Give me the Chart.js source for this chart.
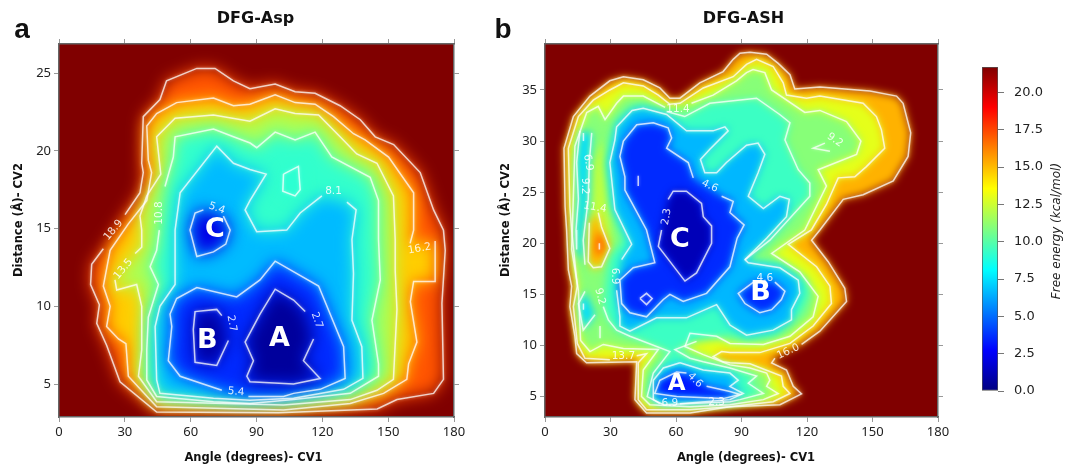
<!DOCTYPE html>
<html lang="en">
<head>
  <meta charset="UTF-8" />
  <title>DFG-Asp / DFG-ASH free energy</title>
  <script src="https://cdn.jsdelivr.net/npm/chart.js"></script>
  <style>
    html, body { margin: 0; background: #fff; }
    canvas { position: absolute; top: 0; }
  </style>
</head>
<body>
  <canvas id="panelA" width="490" height="472" style="left:0"></canvas>
  <canvas id="panelB" width="480" height="472" style="left:490px"></canvas>
  <canvas id="colorBar" width="112" height="472" style="left:960px"></canvas>

  <script>
    const xTicks = [0, 30, 60, 90, 120, 150, 180];
    const yTicksA = [5, 10, 15, 20, 25];
    const yTicksB = [5, 10, 15, 20, 25, 30, 35];
    const barTicks = [0, 2.5, 5, 7.5, 10, 12.5, 15, 17.5, 20];
    const energyMax = 21.7;

    // panel a contours, angle / distance
    const a189x = [30.1,36.9,38.4,37.7,38.4,46,49,62.8,71.1,79.5,87,98.5,107.6,116.7,128.1,137.3,144.1,152.5,164.6,170.7,175.2,176,174.5,175.2,170.7,154,145,100,44.5,27.8,21.7,17.2,18.4,14.4,14.9,20.2];
    const a189y = [15.9,17.3,18.6,19.2,22.2,23.3,24.5,25.3,25.3,24.5,24,24.3,23.8,23.7,22.9,22,20.9,20.4,18.6,16.2,14.9,13.6,10.2,5.3,4.4,4,3.4,3.15,3.2,5.15,7.5,8.9,10.1,11.4,12.7,13.7];
    const a162x = [171.4,171.4,161.6,160.1,163.1,159.3,158.5,147.9,132.7,102.3,44.5,31.6,30.5,27.1,21.7,23.3,20.2,23.3,31.6,40,42.2,40.7,40,44.5,53.6,70.4,79.5,87,98.5,107.6,116.7,125.1,134.2,139.5,150.2,161.6,161.6,160];
    const a162y = [14.2,11.6,11.6,10.3,7.7,6.3,5.3,4.4,3.75,3.33,3.54,5.5,7.6,7.9,8.7,10,11.3,13.6,15.3,16.8,18.6,19.4,21.6,22.4,23.1,23.4,22.9,23,23.6,23.1,23,22.2,21.1,20.7,19.6,17.3,14.9,14.05];
    const a135x = [34.7,37.7,37.7,36.9,40,46.4,44.5,52.9,70.4,87,98.5,107.6,118.3,128.1,135.7,144.9,152.4,153.2,153.2,154,152.4,144.9,132.7,102.3,44.5,36.2,37.7,37.7,35.4,26.3,25.5];
    const a135y = [13.4,13.8,14.9,15.8,17.1,18.5,20.9,22.1,22.3,21.9,22.7,22.4,22.3,20.9,19.8,19.2,17.1,14.3,12.3,9.8,5.3,4.6,4,3.65,3.86,5.5,7.2,10,11.4,11.05,11.7];
    const a108x = [48.3,52.1,52.9,70.4,79.5,87.1,90.1,98.5,107.6,116.7,124.3,141.8,145.6,145.6,146.4,142.6,145.6,145.6,132.7,106.9,87,70.4,44.5,40,40,40.7,45.3,41.5,44.5,45.7];
    const a108y = [17.7,19.6,20.9,21.4,20.9,20.5,20.2,21.2,20.7,21.2,19.6,18.3,16.8,14.3,11.7,9.1,6.3,5.5,4.4,4,3.75,3.86,4.2,5.26,7.2,9.3,11.4,12.55,13.6,14.9];
    const a81x = [131.2,135.4,133.5,134.2,133.5,138,138.5,129.7,106.9,87,70.4,46,44.5,43.8,46,52.9,52.9,55.2,71.9,79.5,87,94.4,87,84.8,90.1,103.8,109.9,119.8];
    const a81y = [16.7,16.2,14.3,12.1,9.1,7.4,5.36,4.66,4.08,3.95,4.08,4.4,5.26,8.7,10,11.4,14.9,17.3,20.3,19.2,18.8,18.5,16.8,16.2,14.8,14.9,16,17.1];
    const a81ix = [102.3,109.1,109.9,107.6,102,102.3];
    const a81iy = [18.5,19,17.5,17.1,17.4,18.5];
    const a54x = [86.3,102.3,106.9,119,130.4,129.7,118.3,98.5,91.6,81,62.8,53.6,50.6,51.4,49.8,55.2,74.2];
    const a54y = [4.2,4.2,4.4,4.66,5.36,7.4,11.3,12.9,11.7,10.6,11.2,10.5,9.5,8.7,6.5,5.5,4.6];
    const a54cx = [74.9,78,76,70.4,62.8,59.7,62,65.8];
    const a54cy = [15.8,14.9,14,13.5,13.2,14.9,16,16.2];
    const a27bx = [77.2,71.9,62,61.2,62,71.9,74.2];
    const a27by = [7.8,6.2,6.4,8.5,9.66,9.8,9.4];
    const a27ax = [116,111.4,119,106.9,87,85.6,88.6,84.8,91.6,98.5,106.9,112.2];
    const a27ay = [7.9,6.5,5.36,5,5.15,5.5,6.5,7.7,9.5,11.1,10.4,9.66];

    // panel b contours
    const b160x = [117.5,125.9,138.1,137.3,129.7,122.1,125.9,136.6,145.7,159.5,166.3,167.5,164,161,148.8,125.9,114.4,112.2,106.8,101.5,93.9,89.3,86.2,81.6,70.9,61.8,57.2,52.6,45,35.9,29.7,20.6,13,8.7,9.2,9.9,10.7,12.2,11.4,13.7,14.5,19,42,41.2,46.5,66.4,84.7,107.6,117.5,113.7,110.6,103.8,105.3];
    const b160y = [10.1,11.4,14.3,15.6,18.2,20.3,21.3,24.3,24.75,26.1,28.5,30.8,33.7,34.4,34.9,35.3,35.1,36.5,37.6,38.5,38.7,38.6,38,36.8,35.7,34.2,34.2,35.2,36,36.3,35.9,34.4,32.4,29.3,23.6,21.3,17.4,15.8,13.8,10.9,9.2,8.3,8.4,4.7,3.4,3.4,4,4.2,5.26,6,7.6,8.3,8.75];
    const b137x = [29.7,18.3,14.8,13,14.8,12.2,11.4,10.7,15.3,22.1,29.7,35.9,45,51.9,57.2,61.8,72.5,86.2,92.3,96.9,104.5,109.1,110.6,119.8,125.9,145.7,151.8,154.1,155.6,147.2,141.9,134.3,128.9,122,111.4,124.4,130.5,131.2,122.8,112.2,98.4,84.7,80.9,77,81.6,84.7,93.9,108.3,109.1,112.2,104.5,84.7,66.4,46.5,42.7,42.7,46.5,42];
    const b137y = [8.6,8.75,10.2,13.8,15.8,21.3,23.6,29.3,32.4,34,35,35.7,35.4,34.5,33.6,33.7,35.2,36.3,37.5,38,37.3,35.7,34.5,34.2,34.4,33.7,32.4,31.1,29.3,27.5,26.5,26.4,23.8,21.3,19.9,17.7,15.8,14.1,11.9,10.2,9.3,9.3,9.4,8.9,8.4,8.3,8.2,7,6,5.3,4.5,4,3.7,3.7,4.7,8.3,9.2,9];
    const b114x = [67.1,77,87.7,92.3,95.3,100.7,103.8,119,125.9,138.1,144.7,142.7,125.1,128.9,119,103.8,116.7,125.1,122.8,112.2,100,84.7,78.6,66.4,64.1,72.5,84.7,93.9,101.5,103,101.5,106.8,100,84.7,66.4,48,44.2,45,51.9,35.9,26.7,20.6,16.3,15.3,12.2,13,13.7,19.1,24.4,27.5,32.8,35.9,45,55];
    const b114y = [33.7,34.5,35.9,36.7,37,36.7,35,32.8,33,31.9,30,28.7,27.2,25.6,21.3,19,17.2,14.8,12.8,10.9,10.1,10.2,10.9,11.2,9.9,9.1,8.1,7.8,7.3,6.6,6,5.3,4.7,4.2,4,4.2,5,7.6,9.6,9.7,10.1,9.4,10.5,15.4,19.4,24.6,29.5,32.8,33.4,32.1,33.7,34.4,34.4,33.3];
    const b92x = [55.7,64,75.5,96.9,107.5,112.2,109.9,116,121.3,121.3,103,91.6,107.6,119.8,121.3,117.5,106.1,92.3,84.7,69.4,59.5,66.4,72.5,84.7,96.9,93.1,100,89.3,84.7,54.2,46.8,49.6,57.2,38.9,32.8,29,26.7,28.2,29.7,35.9,29.7,27.5,29.7,32.8,39.9,44.8];
    const b92y = [32.9,32.4,33.7,34.2,32.6,31.8,30.1,27.2,25.9,24.6,20.3,18.4,18.1,16.4,15.1,13.2,11,10.5,11,10.4,9.6,8.75,8.4,7.8,7,6.3,5.3,4.7,4.5,4.2,5,7.3,9.4,10.9,11.5,12.5,13.8,16.8,18.7,20.3,23.6,27.9,30.1,32.1,33.4,33.6];
    const b69x = [35.1,39.7,32,29.7,32,32.8,39.9,45,55.7,64.8,77,82.4,83.9,75.5,71.2,73.2,78.6,83.1,92.3,97.6,100.7,97.6,93.1,100,107.6,111.9,110.6,101.5,91.6,93.1,107.6,116,116.7,112.9,112.9,104.5,92.3,84.7,78.6,64.8,51.1,38.9,34.3,34.3,32.8];
    const b69y = [18.4,19.9,23.3,27.9,30.1,31.4,33,33.2,32.6,31,31,31.4,31,29.2,28.2,26.9,26.9,27.9,29.6,29.8,28.7,26.9,24.6,23.4,24.6,24.3,22.6,20.5,18.4,18.1,17.6,16.4,15.1,13.5,12.5,11.5,11,12,14,12.7,12.7,11.4,11.9,12.8,15.4];
    const b69ax = [61.8,72.5,84.7,88.5,84.7,90.8,84.7,61.8,52.6,49.6,49.6,54.2,61.8];
    const b69ay = [8.3,7.6,7.3,6.6,6,5.3,4.7,4.3,4.3,4.7,6.6,7.8,8.3];
    const b46x = [80.9,86.2,84.7,91.2,88,84.7,74,63.3,57.2,54.2,46.5,38.9,35.1,34.3,40.4,50.3,46.5,41.2,36.6,36.6,34.3,35.9,42,49.6,56.4,58,55.7,65.6,67.9];
    const b46y = [24.6,24.1,23,21.8,20.5,17.7,15.1,14.3,15,14.5,12.8,13.2,14.1,16.4,17.6,18.1,21.3,23.4,25.2,26.5,28.5,30,31.6,31.8,31.3,30.3,29.3,27.9,26.4];
    const b46bx = [105.3,109.9,108.3,103.8,98.4,91.6,88.5,96.1];
    const b46by = [16.2,15.3,14.5,13.5,13.2,14.1,15.1,16.3];
    const b46ax = [74,84.7,89.3,81.6,60.3,50.3,52.6,60.3,64.8];
    const b46ay = [6,5.5,5.2,4.8,5,5.3,6.6,7.4,7.3];
    const b23x = [56.4,58.7,64.8,71.7,72.5,76.3,76.3,69.4,64.1,51.9,53.4];
    const b23y = [24.3,25.1,25.1,23.9,22.6,21.7,20,17.1,16.3,19.7,21.3];
    const bPocket1x = [16,14.5,15.3,14.2,14.5,18.3,17.5,19.8,20.3,21.4];
    const bPocket1y = [31,27.9,24.3,21.3,19.4,17.9,20.3,24.3,27.9,30.8];
    const bPocket2x = [18.3,15.3,17.5,22.9];
    const bPocket2y = [15.3,14.1,11.5,13];
    const bRidgex = [24.4,25.9,29.7,25.9,22.1,19.8,20.3];
    const bRidgey = [23,21.6,19.5,17.7,17.6,18.2,22];
    const bPeakx = [23.7,22.9,25.9,27.5,25.2];
    const bPeaky = [21,18.9,18.9,19.9,21];
    const bStripx = [20.6,22.1,26.7,29,30.5,29.7,22];
    const bStripy = [22,27.9,30.1,27.9,23.6,19.5,17];
    const bDiamondx = [43.5,46.5,49.1,46.5,43.5];
    const bDiamondy = [14.6,15.1,14.6,14,14.6];
    const bMarkx = [128.2,122.8,130.5];
    const bMarky = [29.8,29.3,29];
    const bTick1x = [42.7,42.7];
    const bTick1y = [26.6,25.6];
    const bTick2x = [17.6,17.6];
    const bTick2y = [30.8,30];
    const bTick3x = [17.6,17.6];
    const bTick3y = [14.1,13.5];
    const bTick4x = [25.2,25.2];
    const bTick4y = [11.9,10.7];
    const bTick5x = [24.9,24.9];
    const bTick5y = [20,19.4];

    // contour labels: text, angle, distance, rotation
    const aLabels = [
      ['18.9',24.8,14.9,-50],['13.5',29.3,12.4,-50],['10.8',45.7,16,-90],['8.1',125.1,17.4,0],['5.4',71.9,16.3,20],
      ['2.7',78.7,8.9,80],['2.7',117.5,9.1,70],['5.4',80.7,4.5,5],['16.2',164.3,13.7,-10]
    ];
    const bLabels = [
      ['11.4',60.9,33.1,0],['11.4',22.9,23.5,10],['6.9',19.8,27.9,80],['9.2',18.3,25.6,90],['6.9',32,16.8,90],['9.2',25.2,14.8,75],
      ['13.7',35.9,8.9,0],['4.6',68.7,6.6,45],['6.9',57.2,4.3,0],['2.3',78.6,4.4,0],['16.0',111.4,9.4,-25],['4.6',75.5,25.6,25],
      ['2.3',55.7,22.6,-80],['4.6',100.7,16.6,0],['9.2',132.8,30.1,35]
    ];
    const aBasins = [['A',100.5,7.9,27],['B',67.6,7.8,27],['C',71.1,14.9,27]];
    const bBasins = [['A',60.3,6.2,23],['B',98.7,15.1,27],['C',61.8,20.3,27]];

    // contours in drawing order; f = energy of the fill inside, hide = segments without line
    const contoursA = [
      {x:a189x,y:a189y,f:17.2}, {x:a162x,y:a162y,f:14.6}, {x:a135x,y:a135y,f:11.8}, {x:a108x,y:a108y,f:9.2},
      {x:a81x,y:a81y,f:6.7}, {x:a81ix,y:a81iy,f:9}, {x:a54x,y:a54y,f:3.6}, {x:a54cx,y:a54cy,f:2.2},
      {x:a27bx,y:a27by,f:0.8}, {x:a27ax,y:a27ay,f:0.6}
    ];
    const contoursB = [
      {x:b160x,y:b160y,f:15.2}, {x:b137x,y:b137y,f:13}, {x:b114x,y:b114y,f:11},
      {x:bStripx,y:bStripy,f:12.2,noLine:true},
      {x:bPocket1x,y:bPocket1y,f:7.4,hide:[[4,5],[9,10]]}, {x:bPocket2x,y:bPocket2y,f:7.4},
      {x:bRidgex,y:bRidgey,f:15}, {x:bPeakx,y:bPeaky,f:17,noLine:true},
      {x:b92x,y:b92y,f:9.4,hide:[[11,19],[36,46]]},
      {x:b69x,y:b69y,f:6.6}, {x:b69ax,y:b69ay,f:6.6,hide:[[7,8]]},
      {x:b46x,y:b46y,f:3.6}, {x:b46bx,y:b46by,f:3.6}, {x:b46ax,y:b46ay,f:3.2},
      {x:b23x,y:b23y,f:1.2},
      {x:bDiamondx,y:bDiamondy}, {x:bMarkx,y:bMarky}, {x:bTick1x,y:bTick1y}, {x:bTick2x,y:bTick2y},
      {x:bTick3x,y:bTick3y}, {x:bTick4x,y:bTick4y}, {x:bTick5x,y:bTick5y}
    ];

    function jet(v) {
      const t = Math.min(1, Math.max(0, v / energyMax));
      const ch = c => Math.round(255 * Math.min(1, Math.max(0, 1.5 - Math.abs(4 * t - c))));
      return `rgb(${ch(3)},${ch(2)},${ch(1)})`;
    }

    function text(ctx, str, x, y, font, color, rot) {
      ctx.save();
      ctx.translate(x, y);
      ctx.rotate((rot || 0) * Math.PI / 180);
      ctx.font = font;
      ctx.fillStyle = color;
      ctx.textAlign = 'center';
      ctx.textBaseline = 'middle';
      ctx.fillText(str, 0, 0);
      ctx.restore();
    }

    const surfacePlugin = {
      id: 'surface',
      beforeDatasetsDraw(chart, args, opts) {
        const { ctx, chartArea: a, scales } = chart;
        ctx.save();
        ctx.beginPath();
        ctx.rect(a.left, a.top, a.width, a.height);
        ctx.clip();
        ctx.fillStyle = jet(energyMax);
        ctx.fillRect(a.left, a.top, a.width, a.height);
        ctx.filter = `blur(${opts.blur}px)`;
        opts.contours.forEach(c => {
          if (c.f === undefined) return;
          ctx.beginPath();
          c.x.forEach((v, i) => ctx.lineTo(scales.x.getPixelForValue(v), scales.y.getPixelForValue(c.y[i])));
          ctx.closePath();
          ctx.fillStyle = jet(c.f);
          ctx.fill();
        });
        ctx.restore();
        // soft contour lines
        ctx.save();
        ctx.filter = 'blur(0.5px)';
        ctx.shadowColor = 'rgba(255,255,255,0.55)';
        ctx.shadowBlur = 3;
      },
      afterDatasetsDraw(chart, args, opts) {
        const { ctx, scales } = chart;
        ctx.restore();
        ctx.save();
        ctx.filter = 'blur(0.4px)';
        opts.labels.forEach(l => text(ctx, l[0], scales.x.getPixelForValue(l[1]), scales.y.getPixelForValue(l[2]),
          '10.5px "DejaVu Sans"', 'rgba(255,255,255,0.85)', l[3]));
        opts.basins.forEach(l => text(ctx, l[0], scales.x.getPixelForValue(l[1]), scales.y.getPixelForValue(l[2]),
          `bold ${l[3]}px "DejaVu Sans"`, '#fff', 0));
        ctx.restore();
      },
      afterDraw(chart, args, opts) {
        const ctx = chart.ctx;
        text(ctx, opts.letter, opts.letterX, 30, 'bold 28px "Liberation Sans"', '#111');
        text(ctx, opts.title, opts.titleX, 19, 'bold 16px "DejaVu Sans"', '#111');
        text(ctx, 'Angle (degrees)- CV1', opts.xTitleX, 458, 'bold 11.5px "DejaVu Sans"', '#111');
        text(ctx, 'Distance (Å)- CV2', opts.yTitleX, 220, 'bold 11.5px "DejaVu Sans"', '#111', -90);
      }
    };

    function panel(id, conf) {
      const tickSet = vals => s => { s.ticks = vals.map(v => ({ value: v })); };
      const tickFont = { family: '"Noto Sans"', size: 13 };
      const side = { drawOnChartArea: false, tickLength: 5, tickColor: '#999' };
      const edge = { display: true, color: '#666', width: 1.5, z: 1 };
      new Chart(document.getElementById(id), {
        type: 'scatter',
        data: {
          datasets: conf.contours.filter(c => !c.noLine).map(c => ({
            data: c.x.map((v, i) => ({ x: v, y: c.y[i] })),
            showLine: true,
            pointRadius: 0,
            borderColor: 'rgba(255,255,255,0.75)',
            borderWidth: 1.5,
            segment: {
              borderColor: s => (c.hide || []).some(h => s.p0DataIndex >= h[0] && s.p0DataIndex < h[1]) ? 'rgba(0,0,0,0)' : undefined
            }
          }))
        },
        options: {
          responsive: false,
          animation: false,
          events: [],
          layout: { padding: { top: 39, right: conf.padRight, left: 0, bottom: 0 } },
          scales: {
            x: { min: 0, max: 180, afterBuildTicks: tickSet(xTicks), afterFit: s => { s.height = 55; },
              ticks: { font: tickFont, color: '#222', padding: 2, maxRotation: 0 }, grid: side, border: edge },
            y: { min: conf.yMin, max: conf.yMax, afterBuildTicks: tickSet(conf.yTicks), afterFit: s => { s.width = conf.left; },
              ticks: { font: tickFont, color: '#222', padding: 3 }, grid: side, border: edge },
            x2: { position: 'top', axis: 'x', min: 0, max: 180, afterBuildTicks: tickSet(xTicks), afterFit: s => { s.height = 5; },
              ticks: { display: false }, grid: side, border: edge },
            y2: { position: 'right', axis: 'y', min: conf.yMin, max: conf.yMax, afterBuildTicks: tickSet(conf.yTicks), afterFit: s => { s.width = 5; },
              ticks: { display: false }, grid: side, border: edge }
          },
          plugins: {
            legend: { display: false },
            tooltip: { enabled: false },
            surface: conf.surface
          }
        },
        plugins: [surfacePlugin]
      });
    }

    panel('panelA', {
      contours: contoursA, yMin: 2.88, yMax: 26.87, yTicks: yTicksA, left: 59, padRight: 31,
      surface: { contours: contoursA, labels: aLabels, basins: aBasins, blur: 8, letter: 'a', letterX: 22, title: 'DFG-Asp', titleX: 255.5, xTitleX: 253.5, yTitleX: 19 }
    });
    panel('panelB', {
      contours: contoursB, yMin: 3, yMax: 39.5, yTicks: yTicksB, left: 55, padRight: 27,
      surface: { contours: contoursB, labels: bLabels, basins: bBasins, blur: 4.5, letter: 'b', letterX: 13, title: 'DFG-ASH', titleX: 253.5, xTitleX: 256, yTitleX: 16 }
    });

    // colour bar: one floating bar over the energy scale
    new Chart(document.getElementById('colorBar'), {
      type: 'bar',
      data: {
        labels: ['Free energy'],
        datasets: [{
          data: [[0, energyMax]],
          barPercentage: 1,
          categoryPercentage: 1,
          borderColor: '#555',
          borderWidth: 1,
          borderSkipped: false,
          backgroundColor: c => {
            const a = c.chart.chartArea;
            if (!a) return '#888';
            const g = c.chart.ctx.createLinearGradient(0, a.bottom, 0, a.top);
            for (let i = 0; i <= 40; i++) g.addColorStop(i / 40, jet(energyMax * i / 40));
            return g;
          }
        }]
      },
      options: {
        responsive: false,
        animation: false,
        events: [],
        layout: { padding: { top: 67, bottom: 81, left: 22, right: 0 } },
        scales: {
          x: { display: false },
          y: { position: 'right', min: 0, max: energyMax,
            afterBuildTicks: s => { s.ticks = barTicks.map(v => ({ value: v })); },
            afterFit: s => { s.width = 74; },
            ticks: { font: { family: '"DejaVu Sans"', size: 13 }, color: '#222', padding: 10, callback: v => v.toFixed(1) },
            grid: { drawOnChartArea: false, tickLength: 6, tickColor: '#777' },
            border: { display: false } }
        },
        plugins: { legend: { display: false }, tooltip: { enabled: false } }
      },
      plugins: [{
        id: 'barTitle',
        afterDraw(chart) {
          text(chart.ctx, 'Free energy (kcal/mol)', 97, 231, 'italic 12px "DejaVu Sans"', '#222', -90);
        }
      }]
    });
  </script>
</body>
</html>
